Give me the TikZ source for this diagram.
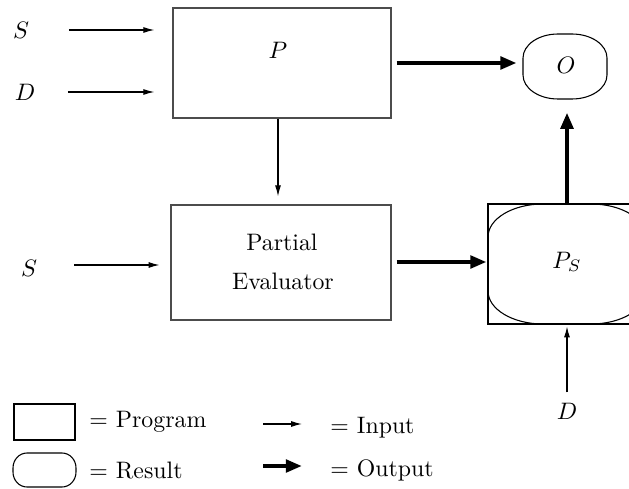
\documentclass[tikz,border=0pt]{standalone}
\usetikzlibrary{arrows.meta,calc}
\begin{document}
\begin{tikzpicture}[x=0.42pt,y=0.42pt,
  txt/.style={inner sep=0pt},
  progbox/.style={draw=black!70,line width=0.45pt,rectangle,inner sep=0pt},
  place/.style={inner sep=0pt},
  oval/.style={line width=0.45pt},
  inarr/.style={line width=0.45pt,-{Latex[length=4.6pt,width=2.5pt]}},
  outarr/.style={line width=1.8pt,-{Triangle[length=6.8pt,width=5.2pt]}}]
\clip (0,0) rectangle (629,-489);
\useasboundingbox (0,0) rectangle (629,-489);

% program boxes
\node[progbox,minimum width=218*0.42pt,minimum height=110*0.42pt] (P) at (282,-63) {};
\node[txt] (Plab) at (278,-50) {$P$};
\node[progbox,minimum width=220*0.42pt,minimum height=115*0.42pt] (PE) at (281,-262.5) {};
\node[txt] (PE1) at (282,-242) {Partial};
\node[txt] (PE2) at (283,-281) {Evaluator};

% specialised program: box with rounded result inside
\node[draw,line width=0.45pt,inner sep=0pt,minimum width=158*0.42pt,
      minimum height=120*0.42pt] (PS) at (567,-264) {};
\draw[oval] (543,-204) -- (591,-204)
  arc[start angle=90,end angle=0,x radius=55,y radius=33] -- (646,-291)
  arc[start angle=0,end angle=-90,x radius=55,y radius=33] -- (543,-324)
  arc[start angle=270,end angle=180,x radius=55,y radius=33] -- (488,-237)
  arc[start angle=180,end angle=90,x radius=55,y radius=33] -- cycle;
\node[txt] (PSlab) at (567,-262) {$P_S$};

% final result
\node[place,minimum width=84*0.42pt,minimum height=65*0.42pt] (O) at (565,-66.5) {};
\draw[oval] (558,-34) -- (572,-34)
  arc[start angle=90,end angle=0,x radius=35,y radius=24] -- (607,-75)
  arc[start angle=0,end angle=-90,x radius=35,y radius=24] -- (558,-99)
  arc[start angle=270,end angle=180,x radius=35,y radius=24] -- (523,-58)
  arc[start angle=180,end angle=90,x radius=35,y radius=24] -- cycle;
\node[txt] (Olab) at (566,-65) {$O$};

% inputs
\node[txt] (S1) at (21,-30) {$S$};
\node[txt] (D1) at (25,-92) {$D$};
\node[txt] (S2) at (29,-268) {$S$};
\node[txt] (D2) at (567,-411) {$D$};

\draw[inarr,shorten <=16.6pt,shorten >=7.6pt] (S1.east) -- (S1.east -| P.west);
\draw[inarr,shorten <=13.5pt,shorten >=7.6pt] (D1.east) -- (D1.east -| P.west);
\draw[inarr,shorten >=3.4pt] (P.south -| Plab) -- (PE.north -| Plab);
\draw[inarr,shorten <=15.5pt,shorten >=4.6pt] ($(S2.east)+(0,3)$) -- ($(S2.east -| PE.west)+(0,3)$);
\draw[inarr,shorten <=4.2pt,shorten >=0.8pt] (D2.north) -- (D2.north |- PS.south);

% outputs
\draw[outarr,shorten <=2.1pt,shorten >=2.5pt] (P.east) -- (P.east -| O.west);
\draw[outarr,shorten <=2.1pt,shorten >=0.4pt] (PE.east |- PSlab) -- (PS.west |- PSlab);
\draw[outarr,shorten >=5.5pt] (PS.north) -- (PS.north |- O.south);

% legend
\node[progbox,draw=black,minimum width=61*0.42pt,minimum height=36*0.42pt] (Lprog) at (44.5,-422) {};
\node[txt,anchor=west] (Lprogt) at (89,-422) {$=$ Program};
\node[place,minimum width=63*0.42pt,minimum height=34*0.42pt] (Lres) at (44.5,-470) {};
\draw[oval] (27,-453) -- (62,-453)
  arc[start angle=90,end angle=0,x radius=14,y radius=15] -- (76,-472)
  arc[start angle=0,end angle=-90,x radius=14,y radius=15] -- (27,-487)
  arc[start angle=270,end angle=180,x radius=14,y radius=15] -- (13,-468)
  arc[start angle=180,end angle=90,x radius=14,y radius=15] -- cycle;
\node[txt,anchor=west] (Lrest) at (89,-470) {$=$ Result};
\coordinate (Lin0) at (263,-424);
\coordinate (Lin1) at (302,-424);
\draw[inarr] (Lin0) -- (Lin1);
\node[txt,anchor=west] (Lint) at (330,-428) {$=$ Input};
\coordinate (Lout0) at (263,-466);
\coordinate (Lout1) at (302,-466);
\draw[outarr] (Lout0) -- (Lout1);
\node[txt,anchor=west] (Loutt) at (330,-470) {$=$ Output};
\end{tikzpicture}
\end{document}
